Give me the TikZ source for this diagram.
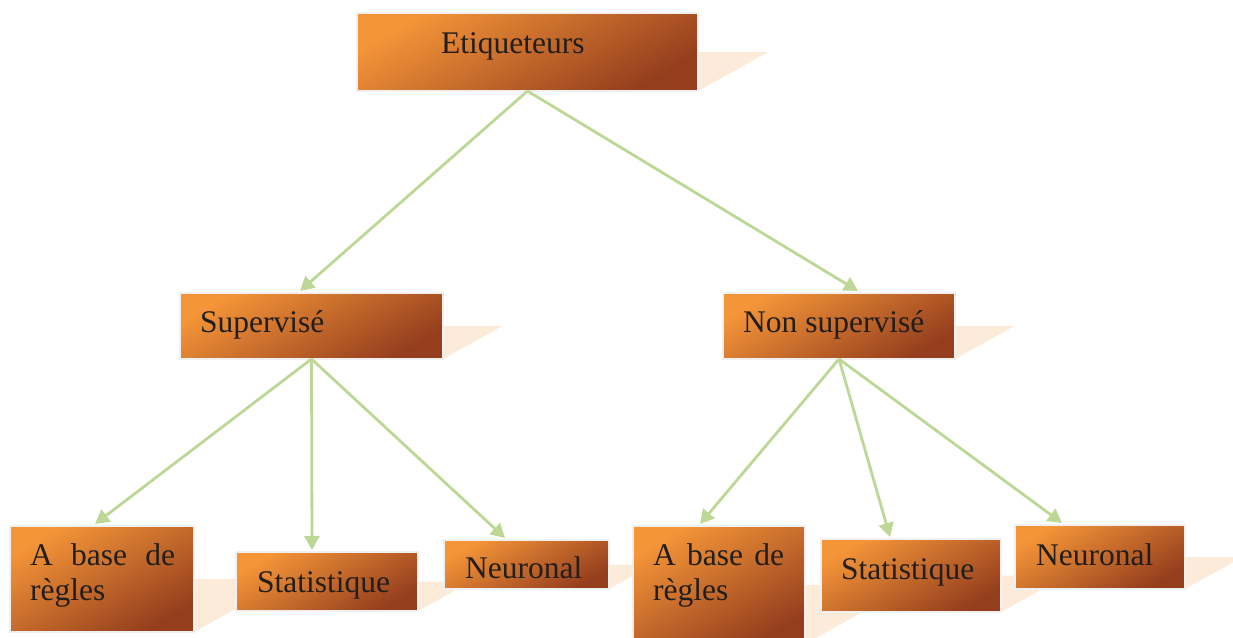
\documentclass[tikz,border=0pt]{standalone}
\usepackage{fontspec}
\setmainfont{Liberation Serif}
\usetikzlibrary{arrows.meta,calc}
\definecolor{shadowc}{RGB}{253,235,218}
\definecolor{arrowc}{RGB}{189,215,150}
\definecolor{boxtop}{RGB}{244,149,56}
\definecolor{boxmid}{RGB}{214,116,42}
\definecolor{boxbot}{RGB}{148,62,30}
\definecolor{boxline}{RGB}{240,240,240}
\definecolor{txt}{RGB}{34,30,28}
\tikzset{
  ebox/.style={rectangle, draw=boxline, line width=2.5pt, inner sep=0pt, outer sep=0pt,
    anchor=north west, top color=boxtop, middle color=boxmid, bottom color=boxbot, shading angle=30},
  lbl/.style={inner sep=0pt, anchor=base west, text=txt, font=\fontsize{31.5}{36}\selectfont},
  conn/.style={draw=arrowc, line width=2.8pt, -{Triangle[length=14pt,width=15pt]}}
}
\newcommand\shad[4]{\fill[shadowc] (#1,#3) -- (#2,#3) -- ($(#2,#3)+({0.9*#4},{-0.5*#4})$) -- ($(#1,#3)+({0.9*#4},{-0.5*#4})$) -- cycle;}
\newcommand\mkbox[5]{\node[ebox, minimum width={#4-#2}, minimum height={#5-#3}] (#1) at (#2,#3) {};}
\begin{document}
\begin{tikzpicture}[x=1pt,y=-1pt]
\useasboundingbox (0,0) rectangle (1233,637);
\clip (0,0) rectangle (1233,637);
% shadows
\shad{357}{698}{91}{78}
\shad{180}{443}{359}{66}
\shad{723}{955}{359}{66}
\shad{10}{194}{632}{106}
\shad{236}{418}{611}{59}
\shad{444}{609}{589}{49}
\shad{633}{805}{644}{118}
\shad{821}{1001}{612}{73}
\shad{1015}{1185}{589}{64}
% boxes
\mkbox{etq}{357}{13}{698}{91}
\mkbox{sup}{180}{293}{443}{359}
\mkbox{non}{723}{293}{955}{359}
\mkbox{abA}{10}{526}{194}{632}
\mkbox{stA}{236}{552}{418}{611}
\mkbox{neA}{444}{540}{609}{589}
\mkbox{abB}{633}{526}{805}{644}
\mkbox{stB}{821}{539}{1001}{612}
\mkbox{neB}{1015}{525}{1185}{589}
% labels
\node[lbl] (etq-t) at (441,53) {Etiqueteurs};
\node[lbl] (sup-t) at (200,332) {Supervisé};
\node[lbl] (non-t) at (743,332) {Non supervisé};
\node[lbl] (abA-t1) at (30,565) {\hbox to 145pt{A\hfill base\hfill de}};
\node[lbl] (abA-t2) at (30,600) {règles};
\node[lbl] (stA-t) at (257,592) {Statistique};
\node[lbl] (neA-t) at (465,578) {Neuronal};
\node[lbl] (abB-t1) at (653,565) {\hbox to 131pt{A\hfill base\hfill de}};
\node[lbl] (abB-t2) at (653,600) {règles};
\node[lbl] (stB-t) at (841,579) {Statistique};
\node[lbl] (neB-t) at (1036,565) {Neuronal};
% connectors
\draw[conn] (etq.south) -- ([xshift=-11.5pt,yshift=2pt]sup.north);
\draw[conn] (etq.south) -- ([xshift=19pt,yshift=2pt]non.north);
\draw[conn] (sup.south) -- ([xshift=-7pt,yshift=2pt]abA.north);
\draw[conn] (sup.south) -- ([xshift=-15pt,yshift=2pt]stA.north);
\draw[conn] (sup.south) -- ([xshift=-21.5pt,yshift=2pt]neA.north);
\draw[conn] (non.south) -- ([xshift=-19pt,yshift=2pt]abB.north);
\draw[conn] (non.south) -- ([xshift=-21pt,yshift=2pt]stB.north);
\draw[conn] (non.south) -- ([xshift=-38pt,yshift=2pt]neB.north);
\end{tikzpicture}
\end{document}
